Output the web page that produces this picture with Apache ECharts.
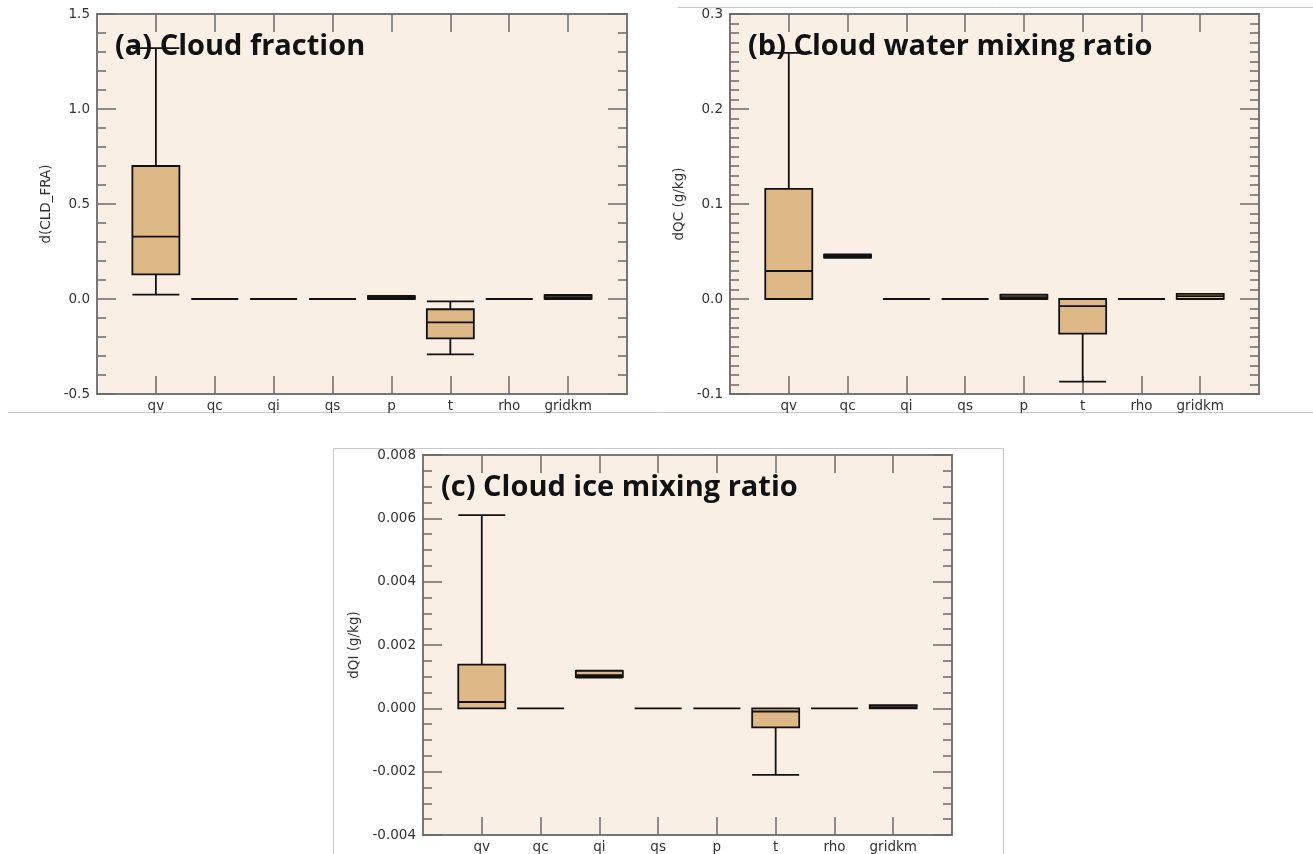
<!DOCTYPE html>
<html>
<head>
<meta charset="utf-8">
<script src="https://cdn.jsdelivr.net/npm/echarts@6/dist/echarts.min.js"></script>
<style>
html,body{margin:0;padding:0;background:#fff;}
#chart{width:1313px;height:854px;}
</style>
</head>
<body>
<div id="chart"></div>
<script>
// ---- data ----
const categories = ['qv', 'qc', 'qi', 'qs', 'p', 't', 'rho', 'gridkm'];

// each row: [min, Q1, median, Q3, max]
const cloudFraction = [
  [0.023, 0.13, 0.328, 0.70, 1.32],
  [0, 0, 0, 0, 0],
  [0, 0, 0, 0, 0],
  [0, 0, 0, 0, 0],
  [0, 0.001, 0.008, 0.015, 0.016],
  [-0.291, -0.207, -0.123, -0.054, -0.012],
  [0, 0, 0, 0, 0],
  [0, 0.001, 0.010, 0.020, 0.021]
];
const cloudWater = [
  [0, 0, 0.0295, 0.116, 0.259],
  [0.0433, 0.0435, 0.045, 0.0468, 0.047],
  [0, 0, 0, 0, 0],
  [0, 0, 0, 0, 0],
  [0, 0.0001, 0.002, 0.0044, 0.0045],
  [-0.087, -0.0365, -0.0074, 0, 0],
  [0, 0, 0, 0, 0],
  [0, 0.0002, 0.003, 0.0053, 0.0055]
];
const cloudIce = [
  [0, 0, 0.0002, 0.00138, 0.0061],
  [0, 0, 0, 0, 0],
  [0.00097, 0.00099, 0.00105, 0.00118, 0.00119],
  [0, 0, 0, 0, 0],
  [0, 0, 0, 0, 0],
  [-0.0021, -0.0006, -0.0001, 0, 0],
  [0, 0, 0, 0, 0],
  [0, 0, 0.00004, 0.0001, 0.0001]
];

const yTicksA = {min: -0.5, max: 1.5, interval: 0.5, minorSplit: 5, digits: 1};
const yTicksB = {min: -0.1, max: 0.3, interval: 0.1, minorSplit: 10, digits: 1};
const yTicksC = {min: -0.004, max: 0.008, interval: 0.002, minorSplit: 4, digits: 3};

const titles = ['(a) Cloud fraction', '(b) Cloud water mixing ratio', '(c) Cloud ice mixing ratio'];
const yNames = ['d(CLD_FRA)', 'dQC (g/kg)', 'dQI (g/kg)'];

// ---- layout ----
const grids = [
  {left: 97, top: 14, width: 530, height: 380},
  {left: 730, top: 14, width: 529, height: 380},
  {left: 423, top: 455, width: 529, height: 381}
];
const nameGaps = [44, 44, 62];
const titlePos = [{left: 115, top: 32}, {left: 748, top: 32}, {left: 441, top: 473}];

const slots = [''].concat(categories, ['']);
const datasets = [cloudFraction, cloudWater, cloudIce];
const yTicks = [yTicksA, yTicksB, yTicksC];

const BG = '#faefe5';
const FRAME = '#777777';
const TICK = '#6a6a6a';
const LABEL = '#333333';
const LFONT = 'DejaVu Sans';

const option = {
  animation: false,
  backgroundColor: '#ffffff',
  title: [],
  grid: [],
  xAxis: [],
  yAxis: [],
  series: [],
  graphic: [
    {type: 'line', shape: {x1: 8, y1: 412.5, x2: 1313, y2: 412.5}, style: {stroke: '#c8c8c8', lineWidth: 1}, silent: true},
    {type: 'line', shape: {x1: 678, y1: 7.5, x2: 1313, y2: 7.5}, style: {stroke: '#c8c8c8', lineWidth: 1}, silent: true},
    {type: 'polyline', shape: {points: [[333.5, 854], [333.5, 448.5], [1003.5, 448.5], [1003.5, 854]]}, style: {stroke: '#c8c8c8', lineWidth: 1, fill: null}, silent: true}
  ]
};

for (let g = 0; g < 3; g++) {
  const gr = grids[g];
  const yt = yTicks[g];
  option.grid.push(Object.assign({show: true, backgroundColor: BG, borderColor: FRAME, borderWidth: 2, containLabel: false}, gr));
  option.title.push({
    text: titles[g], left: titlePos[g].left, top: titlePos[g].top, padding: 0,
    textStyle: {fontFamily: 'Open Sans', fontWeight: 'bold', fontSize: 29, color: '#111111'}
  });
  const tickInterval = (idx) => idx > 0 && idx < slots.length - 1;
  option.xAxis.push({
    type: 'category', gridIndex: g, data: slots, boundaryGap: false, position: 'bottom',
    axisLine: {show: false, onZero: false},
    axisTick: {show: true, inside: true, length: 18, interval: tickInterval, lineStyle: {color: TICK, width: 1.5}},
    axisLabel: {show: true, interval: 0, margin: 5, color: LABEL, fontFamily: LFONT, fontSize: 13.5},
    splitLine: {show: false}
  });
  option.xAxis.push({
    type: 'category', gridIndex: g, data: slots, boundaryGap: false, position: 'top',
    axisLine: {show: false, onZero: false},
    axisTick: {show: true, inside: true, length: 18, interval: tickInterval, lineStyle: {color: TICK, width: 1.5}},
    axisLabel: {show: false},
    splitLine: {show: false}
  });
  const fmt = (v) => (Math.abs(v) < 1e-12 ? 0 : v).toFixed(yt.digits);
  option.yAxis.push({
    type: 'value', gridIndex: g, position: 'left', min: yt.min, max: yt.max, interval: yt.interval,
    name: yNames[g], nameLocation: 'middle', nameGap: nameGaps[g],
    nameTextStyle: {color: LABEL, fontFamily: LFONT, fontSize: 13.5},
    axisLine: {show: false, onZero: false},
    axisTick: {show: true, inside: true, length: 19, lineStyle: {color: TICK, width: 1.5}},
    minorTick: {show: true, splitNumber: yt.minorSplit, length: 9, lineStyle: {color: TICK, width: 1.5}},
    axisLabel: {show: true, margin: 7, color: LABEL, fontFamily: LFONT, fontSize: 13.5, formatter: fmt},
    splitLine: {show: false}, minorSplitLine: {show: false}
  });
  option.yAxis.push({
    type: 'value', gridIndex: g, position: 'right', min: yt.min, max: yt.max, interval: yt.interval,
    axisLine: {show: false, onZero: false},
    axisTick: {show: true, inside: true, length: 19, lineStyle: {color: TICK, width: 1.5}},
    minorTick: {show: true, splitNumber: yt.minorSplit, length: 9, lineStyle: {color: TICK, width: 1.5}},
    axisLabel: {show: false},
    splitLine: {show: false}, minorSplitLine: {show: false}
  });
  const rows = datasets[g].map((r, i) => [categories[i]].concat(r));
  option.series.push({
    type: 'boxplot', xAxisIndex: g * 2, yAxisIndex: g * 2,
    boxWidth: [47, 47],
    encode: {x: 0, y: [1, 2, 3, 4, 5]},
    data: rows,
    itemStyle: {color: '#deb887', borderColor: '#111111', borderWidth: 1.8},
    emphasis: {disabled: true},
    z: 3
  });
}

const chart = echarts.init(document.getElementById('chart'), null, {renderer: 'canvas'});
chart.setOption(option);
</script>
</body>
</html>
